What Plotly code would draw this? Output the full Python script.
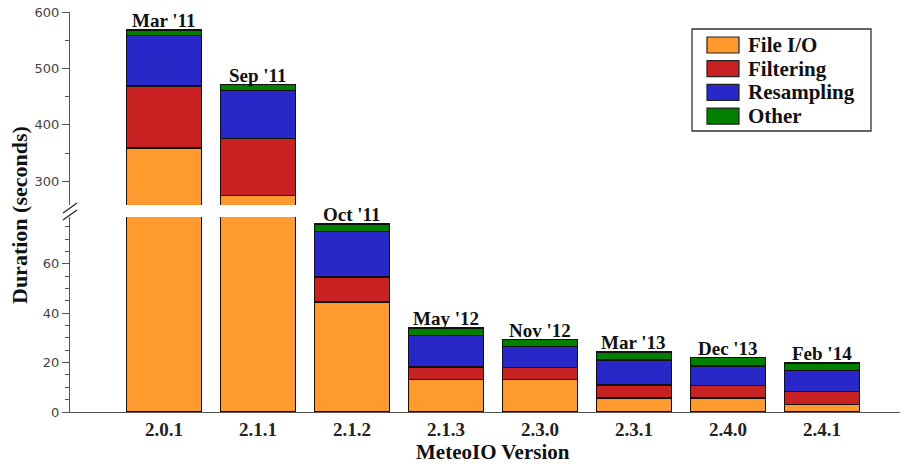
import plotly.graph_objects as go

versions = ["2.0.1", "2.1.1", "2.1.2", "2.1.3", "2.3.0", "2.3.1", "2.4.0", "2.4.1"]
dates = ["Mar '11", "Sep '11", "Oct '11", "May '12", "Nov '12", "Mar '13", "Dec '13", "Feb '14"]
file_io = [359, 275, 44.6, 13.1, 13.1, 5.7, 5.7, 3.0]
filtering = [110, 101, 10.1, 5.1, 5.0, 5.2, 5.1, 5.2]
resampling = [89, 85, 18.3, 12.9, 8.5, 10.2, 7.8, 8.5]
other = [10, 10, 3.2, 2.9, 2.7, 3.2, 3.4, 3.2]

series_names = ["File I/O", "Filtering", "Resampling", "Other"]
series_values = [file_io, filtering, resampling, other]
series_colors = ["#ff9a2e", "#c82121", "#2828c8", "#008000"]

SERIF = "Liberation Serif, Times New Roman, serif"
upper_min = 258
lower_max = 79

# layout geometry (pixels)
W, H = 904, 464
L, R, T, B = 70, 4, 12, 52
PW, PH = W - L - R, H - T - B


def px_x(p):
    return (p - L) / PW


def px_y(p):
    return (H - B - p) / PH


x_idx = list(range(len(versions)))
fig = go.Figure()
for yax in ["y", "y2"]:
    for name, vals, col in zip(series_names, series_values, series_colors):
        fig.add_trace(go.Bar(
            x=x_idx, y=vals, name=name, yaxis=yax, xaxis="x",
            marker=dict(color=col, line=dict(color="#111", width=1.3)),
            width=0.8, showlegend=False,
        ))

totals = [a + b + c + d for a, b, c, d in zip(file_io, filtering, resampling, other)]
annotations = []
for i, (d, t) in enumerate(zip(dates, totals)):
    annotations.append(dict(
        x=i, y=t, xref="x", yref=("y2" if t > lower_max else "y"),
        text="<b>%s</b>" % d, showarrow=False, yanchor="bottom",
        font=dict(family=SERIF, size=19, color="#111"), yshift=-3,
    ))
annotations.append(dict(
    x=0, xref="paper", xshift=-51, xanchor="center", y=px_y(215), yref="paper", yanchor="middle",
    text="<b>Duration (seconds)</b>", textangle=-90, showarrow=False,
    font=dict(family=SERIF, size=22, color="#111"),
))
annotations.append(dict(
    x=px_x(493), xref="paper", y=px_y(452), yref="paper", yanchor="middle",
    text="<b>MeteoIO Version</b>", showarrow=False,
    font=dict(family=SERIF, size=21, color="#111"),
))

lower_top = (H - B - 217) / PH
upper_bot = (H - B - 205) / PH

shapes = []
# axis break marks
for y0, y1 in [(-8, 2), (-15, -5)]:
    shapes.append(dict(type="line", xref="paper", yref="paper",
                       xsizemode="pixel", ysizemode="pixel", xanchor=0, yanchor=upper_bot,
                       x0=-7, x1=7, y0=y0, y1=y1,
                       line=dict(color="#222", width=1.2)))

# legend box
box_l, box_r, box_t, box_b = 692, 871, 29, 131
shapes.append(dict(type="rect", xref="paper", yref="paper",
                   x0=px_x(box_l), x1=px_x(box_r), y0=px_y(box_b), y1=px_y(box_t),
                   line=dict(color="#333", width=1.3), fillcolor="white", layer="above"))
for k, (name, col) in enumerate(zip(series_names, series_colors)):
    top = 37 + 23.7 * k
    shapes.append(dict(type="rect", xref="paper", yref="paper",
                       x0=px_x(707), x1=px_x(739), y0=px_y(top + 16), y1=px_y(top),
                       line=dict(color="#222", width=1.2), fillcolor=col, layer="above"))
    annotations.append(dict(
        x=px_x(746), xref="paper", y=px_y(top + 8), yref="paper",
        xanchor="left", yanchor="middle", text="<b>%s</b>" % name, showarrow=False,
        font=dict(family=SERIF, size=21, color="#111"),
    ))

axis_common = dict(showgrid=False, zeroline=False, showline=True, linecolor="#555",
                   linewidth=1.3, ticks="outside", ticklen=7, tickcolor="#555",
                   automargin=False,
                   tickfont=dict(family="DejaVu Sans", size=13, color="#444"))

fig.update_layout(
    width=W, height=H,
    margin=dict(l=L, r=R, t=T, b=B),
    plot_bgcolor="white", paper_bgcolor="white",
    barmode="stack", bargap=0.2, showlegend=False,
    xaxis=dict(range=[-1, 7.83], tickmode="array", tickvals=x_idx, ticktext=["<b>%s</b>" % v for v in versions],
               showgrid=False, zeroline=False, showline=True, linecolor="#555", linewidth=1.3,
               ticks="", automargin=False, tickfont=dict(family=SERIF, size=19, color="#222"),
               anchor="y"),
    yaxis=dict(domain=[0, lower_top], range=[0, lower_max], tickvals=[0, 20, 40, 60],
               minor=dict(dtick=5, ticks="outside", ticklen=4, tickcolor="#555"),
               anchor="x", **axis_common),
    yaxis2=dict(domain=[upper_bot, 1], range=[upper_min, 600], tickvals=[300, 400, 500, 600],
                minor=dict(dtick=50, ticks="outside", ticklen=4, tickcolor="#555"),
                anchor="x", **axis_common),
    annotations=annotations, shapes=shapes,
)
fig.write_html("out.html", config={"displayModeBar": False},
               post_script="document.body.style.margin='0';document.body.style.overflow='hidden';")
